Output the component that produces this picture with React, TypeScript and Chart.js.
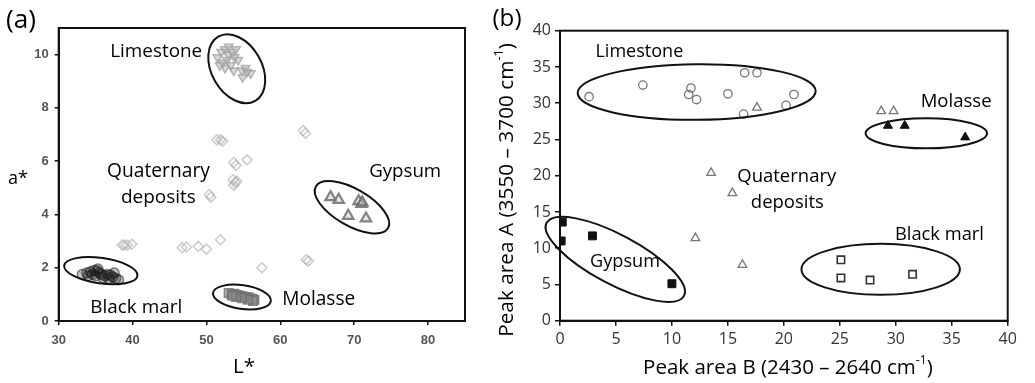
import React, { useEffect, useRef } from "react";
import { Chart, registerables } from "chart.js";
Chart.register(...registerables);

type Pt = [number, number];

// ---------- Panel (a): a* vs L* ----------
const aLimestone: Pt[] = [
  [51.5, 9.9], [52.0, 10.1], [52.5, 10.2], [53.0, 10.0], [53.5, 10.1], [53.8, 9.9],
  [52.8, 9.8], [52.2, 9.7], [53.3, 9.6], [54.0, 10.2], [54.3, 9.8], [52.5, 9.5],
  [53.7, 9.4], [54.8, 9.4], [55.3, 9.5], [56.0, 9.3], [54.9, 9.15], [55.5, 9.35],
  [51.8, 9.6], [53.0, 10.3],
];
const aQuaternary: Pt[] = [
  [63.1, 7.15], [63.4, 7.05], [51.4, 6.8], [51.9, 6.8], [52.2, 6.75], [53.7, 5.95],
  [54.0, 5.85], [55.5, 6.05], [53.6, 5.3], [53.9, 5.2], [53.7, 5.1], [54.1, 5.25],
  [50.4, 4.75], [50.6, 4.65], [51.9, 3.05], [38.6, 2.85], [38.9, 2.85], [39.3, 2.85],
  [39.9, 2.88], [46.7, 2.75], [47.3, 2.78], [48.9, 2.8], [50.0, 2.7], [57.5, 2.0],
  [63.5, 2.3], [63.8, 2.25],
];
const aGypsum: Pt[] = [
  [66.8, 4.65], [67.9, 4.55], [70.6, 4.5], [71.0, 4.4], [71.1, 4.45], [69.2, 3.95], [71.6, 3.85],
];
const aBlackMarl: Pt[] = [
  [33.2, 1.75], [33.8, 1.8], [34.3, 1.85], [34.8, 1.9], [35.2, 1.88], [35.5, 1.8],
  [34.6, 1.75], [35.0, 1.7], [35.8, 1.75], [36.2, 1.7], [36.6, 1.75], [37.0, 1.72],
  [37.3, 1.65], [37.7, 1.6], [38.1, 1.55], [36.8, 1.6], [36.0, 1.62], [34.0, 1.7],
  [35.3, 1.95], [37.5, 1.8],
];
const aMolasse: Pt[] = [
  [53.0, 1.05], [53.4, 1.0], [53.8, 1.02], [54.2, 0.98], [54.6, 0.95], [55.0, 0.92],
  [55.4, 0.9], [55.8, 0.88], [56.2, 0.84], [56.5, 0.8], [56.3, 0.75], [55.6, 0.8],
  [54.8, 0.85], [54.0, 0.9], [53.5, 0.95],
];
const aXRange = [30, 85];
const aYRange = [0, 11];
const aXStep = 10;
const aYStep = 2;

// ---------- Panel (b): Peak area A vs Peak area B ----------
const bLimestone: Pt[] = [
  [2.6, 30.9], [7.4, 32.5], [11.7, 32.1], [11.5, 31.2], [12.2, 30.5], [15.0, 31.3],
  [16.5, 34.2], [17.6, 34.2], [16.4, 28.5], [20.2, 29.7], [20.9, 31.2],
];
const bQuaternary: Pt[] = [
  [17.6, 29.4], [13.5, 20.4], [15.4, 17.6], [12.1, 11.4], [16.3, 7.7], [28.7, 28.9], [29.8, 28.9],
];
const bMolasse: Pt[] = [[29.3, 26.9], [30.8, 26.9], [36.2, 25.3]];
const bGypsum: Pt[] = [[0.2, 13.6], [0.1, 11.0], [2.9, 11.7], [10.0, 5.1]];
const bBlackMarl: Pt[] = [[25.1, 8.4], [25.1, 5.9], [27.7, 5.6], [31.5, 6.4]];
const bXRange = [0, 40];
const bYRange = [0, 40];
const bStep = 5;

// group ellipses (centre in data units, radii in px, rotation in degrees)
interface Ell { cx: number; cy: number; rx: number; ry: number; rot: number }
// text labels (position in data units, w = rendered width in px)
interface Lbl { text: string; x: number; y: number; w: number }

const aEllipses: Ell[] = [
  { cx: 54.1, cy: 9.47, rx: 37, ry: 25, rot: 60 },
  { cx: 69.7, cy: 4.27, rx: 41.7, ry: 18.3, rot: 30 },
  { cx: 35.7, cy: 1.89, rx: 37, ry: 12.7, rot: 8 },
  { cx: 54.8, cy: 0.9, rx: 29.2, ry: 11.8, rot: 8 },
];
const aLabels: Lbl[] = [
  { text: "Limestone", x: 43.2, y: 10.1, w: 92 },
  { text: "Quaternary", x: 43.5, y: 5.6, w: 103 },
  { text: "deposits", x: 43.5, y: 4.64, w: 75 },
  { text: "Gypsum", x: 76.9, y: 5.6, w: 72 },
  { text: "Black marl", x: 40.5, y: 0.51, w: 92 },
  { text: "Molasse", x: 65.2, y: 0.81, w: 73 },
];
const bEllipses: Ell[] = [
  { cx: 12.21, cy: 31.54, rx: 119, ry: 27.8, rot: -0.5 },
  { cx: 32.73, cy: 25.84, rx: 60.7, ry: 15, rot: 0 },
  { cx: 28.65, cy: 7.08, rx: 79.2, ry: 25.5, rot: 0 },
  { cx: 4.94, cy: 8.46, rx: 77.8, ry: 24.7, rot: 28 },
];
const bLabels: Lbl[] = [
  { text: "Limestone", x: 7.09, y: 37.1, w: 88 },
  { text: "Quaternary", x: 20.26, y: 19.86, w: 99 },
  { text: "deposits", x: 20.31, y: 16.33, w: 73 },
  { text: "Molasse", x: 35.39, y: 30.2, w: 71 },
  { text: "Black marl", x: 33.9, y: 11.82, w: 89 },
  { text: "Gypsum", x: 5.81, y: 8.14, w: 70 },
];

const LFONT = "'Open Sans', Lato, sans-serif";
const TEXT_COLOR = "#000";

const toData = (pts: Pt[]) => pts.map(([x, y]) => ({ x, y }));

function fitSize(ctx: CanvasRenderingContext2D, text: string, w: number) {
  ctx.font = `20px ${LFONT}`;
  return (20 * w) / ctx.measureText(text).width;
}

function drawFit(ctx: CanvasRenderingContext2D, text: string, x: number, y: number, w: number) {
  const s = fitSize(ctx, text, w);
  ctx.font = `${s}px ${LFONT}`;
  ctx.textAlign = "center";
  ctx.textBaseline = "middle";
  ctx.fillText(text, x, y);
}

function drawParts(ctx: CanvasRenderingContext2D, parts: [string, boolean][], width: number) {
  const measure = (size: number) => {
    let t = 0;
    for (const [txt, s] of parts) {
      ctx.font = `${s ? size * 0.6 : size}px ${LFONT}`;
      t += ctx.measureText(txt).width;
    }
    return t;
  };
  const size = (20 * width) / measure(20);
  const total = measure(size);
  let x = -total / 2;
  ctx.textAlign = "left";
  ctx.textBaseline = "middle";
  for (const [t, s] of parts) {
    ctx.font = `${s ? size * 0.6 : size}px ${LFONT}`;
    ctx.fillText(t, x, s ? -size * 0.38 : 0);
    x += ctx.measureText(t).width;
  }
}

function overlay(ellipses: Ell[], labels: Lbl[], extra: (ctx: CanvasRenderingContext2D) => void) {
  return {
    id: "overlay",
    afterDraw(chart: any) {
      const ctx: CanvasRenderingContext2D = chart.ctx;
      const xs = chart.scales.x;
      const ys = chart.scales.y;
      const a = chart.chartArea;
      ctx.save();
      ctx.strokeStyle = "#111";
      ctx.lineWidth = 2;
      ctx.strokeRect(a.left, a.top, a.right - a.left, a.bottom - a.top);
      for (const e of ellipses) {
        ctx.beginPath();
        ctx.ellipse(xs.getPixelForValue(e.cx), ys.getPixelForValue(e.cy), e.rx, e.ry, (e.rot * Math.PI) / 180, 0, Math.PI * 2);
        ctx.stroke();
      }
      ctx.fillStyle = TEXT_COLOR;
      for (const l of labels) drawFit(ctx, l.text, xs.getPixelForValue(l.x), ys.getPixelForValue(l.y), l.w);
      extra(ctx);
      ctx.restore();
    },
  };
}

function axisScale(range: number[], step: number, font: any, color: string, tickLen: number, pad: number, fit: (s: any) => void) {
  return {
    type: "linear",
    min: range[0],
    max: range[1],
    ticks: { stepSize: step, includeBounds: false, font, color, padding: pad },
    grid: { display: true, drawOnChartArea: false, drawTicks: true, tickLength: tickLen, color: "#111", lineWidth: 1.5 },
    border: { display: true, color: "#111", width: 2 },
    afterFit: fit,
  };
}

function makeA(canvas: HTMLCanvasElement) {
  const tickFont = { family: "'Liberation Sans', Arial, sans-serif", size: 13, weight: "bold" };
  return new Chart(canvas, {
    type: "scatter",
    data: {
      datasets: [
        { label: "Quaternary deposits", data: toData(aQuaternary), pointStyle: "rectRot", radius: 5, borderWidth: 1.5, borderColor: "rgba(175,175,175,0.65)", backgroundColor: "rgba(255,255,255,0)" },
        { label: "Limestone", data: toData(aLimestone), pointStyle: "triangle", rotation: 180, radius: 5, borderWidth: 1.5, borderColor: "rgba(160,160,160,0.75)", backgroundColor: "rgba(180,180,180,0.5)" },
        { label: "Gypsum", data: toData(aGypsum), pointStyle: "triangle", radius: 6, borderWidth: 2.2, borderColor: "rgba(110,110,110,0.85)", backgroundColor: "rgba(200,200,200,0.4)" },
        { label: "Black marl", data: toData(aBlackMarl), pointStyle: "circle", radius: 5, borderWidth: 1.5, borderColor: "rgba(30,30,30,0.55)", backgroundColor: "rgba(20,20,20,0.25)" },
        { label: "Molasse", data: toData(aMolasse), pointStyle: "rect", radius: 6, borderWidth: 1.5, borderColor: "rgba(110,110,110,0.8)", backgroundColor: "rgba(140,140,140,0.6)" },
      ] as any,
    },
    options: {
      animation: false,
      responsive: false,
      layout: { padding: { top: 28, right: 25, left: 0, bottom: 0 } },
      plugins: { legend: { display: false }, tooltip: { enabled: false } },
      scales: {
        x: axisScale(aXRange, aXStep, tickFont, "#555", 4, 8, (s: any) => { s.height = 62; }),
        y: axisScale(aYRange, aYStep, tickFont, "#555", 4, 6, (s: any) => { s.width = 58.7; }),
      } as any,
    },
    plugins: [
      overlay(aEllipses, aLabels, (ctx) => {
        ctx.fillStyle = TEXT_COLOR;
        drawFit(ctx, "(a)", 21, 21, 30);
        drawFit(ctx, "a*", 18, 179, 20);
        drawFit(ctx, "L*", 244, 367, 22);
      }),
    ],
  } as any);
}

function makeB(canvas: HTMLCanvasElement) {
  const tickFont = { family: LFONT, size: 16 };
  return new Chart(canvas, {
    type: "scatter",
    data: {
      datasets: [
        { label: "Limestone", data: toData(bLimestone), pointStyle: "circle", radius: 4.2, borderWidth: 1.3, borderColor: "#777", backgroundColor: "rgba(255,255,255,0)" },
        { label: "Quaternary deposits", data: toData(bQuaternary), pointStyle: "triangle", radius: 5, borderWidth: 1.3, borderColor: "#777", backgroundColor: "rgba(255,255,255,0)" },
        { label: "Molasse", data: toData(bMolasse), pointStyle: "triangle", radius: 5.2, borderWidth: 1, borderColor: "#111", backgroundColor: "#111" },
        { label: "Gypsum", data: toData(bGypsum), pointStyle: "rect", radius: 5.6, borderWidth: 1, borderColor: "#111", backgroundColor: "#111" },
        { label: "Black marl", data: toData(bBlackMarl), pointStyle: "rect", radius: 5.2, borderWidth: 1.6, borderColor: "#333", backgroundColor: "rgba(255,255,255,0)" },
      ] as any,
    },
    options: {
      animation: false,
      responsive: false,
      layout: { padding: { top: 30.7, right: 27.3, left: 0, bottom: 0 } },
      plugins: { legend: { display: false }, tooltip: { enabled: false } },
      scales: {
        x: axisScale(bXRange, bStep, tickFont, "#333", 5, 4, (s: any) => { s.height = 62.3; }),
        y: axisScale(bYRange, bStep, tickFont, "#333", 5, 4, (s: any) => { s.width = 70; }),
      } as any,
    },
    plugins: [
      overlay(bEllipses, bLabels, (ctx) => {
        ctx.fillStyle = TEXT_COLOR;
        drawFit(ctx, "(b)", 17, 19, 29);
        ctx.save();
        ctx.translate(298, 368);
        drawParts(ctx, [["Peak area B (2430 – 2640 cm", false], ["-1", true], [")", false]], 290);
        ctx.restore();
        ctx.save();
        ctx.translate(17, 190);
        ctx.rotate(-Math.PI / 2);
        drawParts(ctx, [["Peak area A (3550 – 3700 cm", false], ["-1", true], [")", false]], 294);
        ctx.restore();
      }),
    ],
  } as any);
}

export default function App() {
  const refA = useRef<HTMLCanvasElement>(null);
  const refB = useRef<HTMLCanvasElement>(null);
  useEffect(() => {
    const ca = makeA(refA.current!);
    const cb = makeB(refB.current!);
    return () => {
      ca.destroy();
      cb.destroy();
    };
  }, []);
  return (
    <div style={{ position: "absolute", left: 0, top: 0, width: 1035, height: 383, background: "#fff", overflow: "hidden" }}>
      <canvas ref={refA} width={490} height={383} style={{ position: "absolute", left: 0, top: 0, width: 490, height: 383 }} />
      <canvas ref={refB} width={545} height={383} style={{ position: "absolute", left: 490, top: 0, width: 545, height: 383 }} />
    </div>
  );
}
